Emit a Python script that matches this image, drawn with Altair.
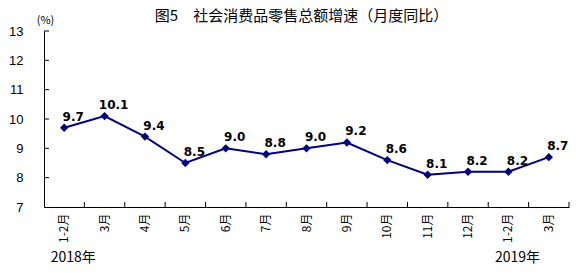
import altair as alt
import pandas as pd

months = ["1-2月", "3月", "4月", "5月", "6月", "7月", "8月", "9月", "10月", "11月", "12月", "1-2月", "3月"]
years = [2018, 2018, 2018, 2018, 2018, 2018, 2018, 2018, 2018, 2018, 2018, 2019, 2019]
values = [9.7, 10.1, 9.4, 8.5, 9.0, 8.8, 9.0, 9.2, 8.6, 8.1, 8.2, 8.2, 8.7]
y_ticks = [8, 9, 10, 11, 12, 13]
year_labels = ["2018年", "2019年"]
year_label_idx = [0, 11]

keys = [f"{y}|{m}" for y, m in zip(years, months)]
df = pd.DataFrame({"key": keys, "v": values, "lab": [f"{v:.1f}" for v in values]})
df_ticks = pd.DataFrame({"v": y_ticks})
df_years = pd.DataFrame({"key": [keys[i] for i in year_label_idx], "lab": year_labels})

NAVY = "#000080"
W, H = 525, 176

xscale = alt.Scale(type="band", domain=keys, paddingInner=0, paddingOuter=0)
yscale = alt.Scale(domain=[7, 13], nice=False, zero=False)

x_axis = alt.Axis(
    labelExpr="split(datum.value, '|')[1]", labelAngle=270, labelPadding=6,
    ticks=False, tickSize=0, domainColor="black", domainWidth=1,
    labelFont="Noto Sans CJK SC", labelFontSize=12, labelColor="black", grid=False,
)
y_axis = alt.Axis(
    values=[7, 8, 9, 10, 11, 12, 13], ticks=False, tickSize=0, labelPadding=21,
    domainColor="black", domainWidth=1, grid=False,
    labelFont="Liberation Sans", labelFontSize=13, labelColor="black",
    title="(%)", titleAngle=0, titleX=1, titleY=-11, titleAlign="center",
    titleBaseline="middle", titleFontSize=11, titleFontWeight="normal",
    titleFont="Noto Sans CJK SC", titleColor="black",
)


def X(**kw):
    return alt.X("key:N", scale=xscale, sort=keys, title=None, axis=x_axis, **kw)


def Y():
    return alt.Y("v:Q", scale=yscale, title="(%)", axis=y_axis)


line = alt.Chart(df).mark_line(
    color=NAVY, strokeWidth=2,
    point=alt.OverlayMarkDef(shape="diamond", size=70, filled=True, color=NAVY),
).encode(x=X(), y=Y())

labels = alt.Chart(df).mark_text(
    font="DejaVu Sans", fontWeight="bold", fontSize=12, color="black",
    dx=9, dy=-7, baseline="alphabetic", align="center",
).encode(x=X(), y=Y(), text="lab:N")

ytick = alt.Chart(df_ticks).mark_rule(color="black", strokeWidth=1).encode(
    x=alt.value(0), x2=alt.value(5), y=Y(),
)

xtick = alt.Chart(df).mark_rule(color="black", strokeWidth=1).encode(
    x=X(bandPosition=1), y=alt.value(H - 5), y2=alt.value(H),
)

year_text = alt.Chart(df_years).mark_text(
    font="Noto Sans CJK SC", fontSize=14, color="black", dx=9, baseline="middle", align="center",
).encode(x=X(), y=alt.value(H + 51), text="lab:N")

chart = alt.layer(line, labels, ytick, xtick, year_text).properties(
    width=W, height=H,
    title=alt.TitleParams(
        "图5　社会消费品零售总额增速（月度同比）",
        font="Noto Sans CJK SC", fontSize=15, fontWeight="normal", color="black",
        anchor="middle", dx=-5, dy=12, offset=2,
    ),
    autosize=alt.AutoSizeParams(type="none"),
    padding={"left": 44, "top": 31, "right": 7, "bottom": 66},
    background="white",
).configure_view(stroke=None)

chart.save("out.html", embed_options={"renderer": "svg", "actions": False})
